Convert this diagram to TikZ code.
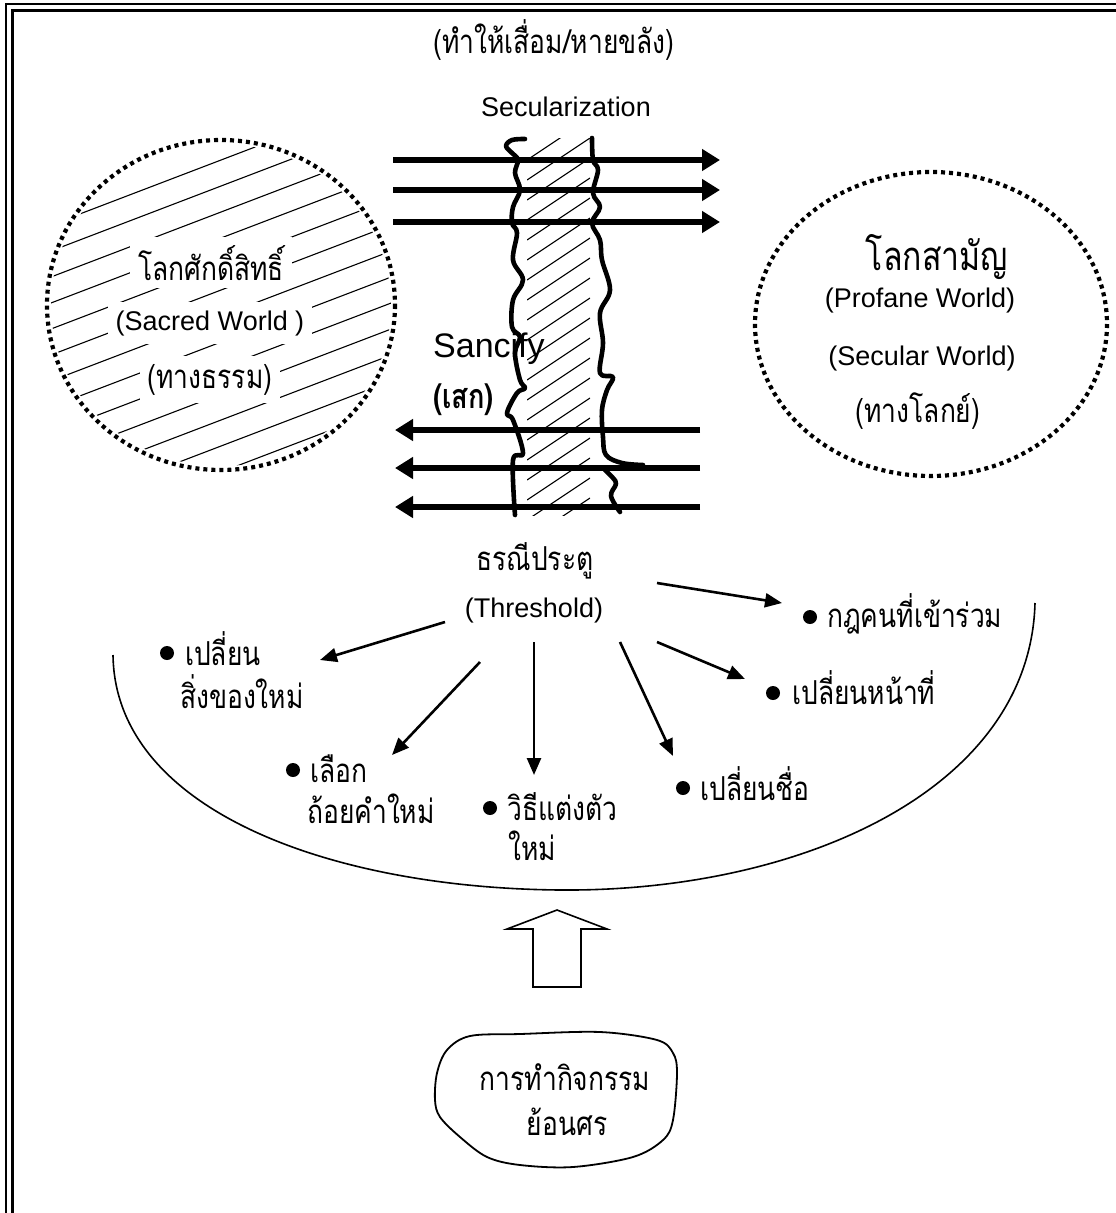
\documentclass[tikz,border=0pt]{standalone}
\usepackage{fontspec}
\setmainfont{Liberation Sans}
\newfontfamily\thaifont[Script=Thai, FakeStretch=0.8]{Loma}
\usetikzlibrary{arrows.meta}

\begin{document}
\begin{tikzpicture}[x=1pt, y=-1pt,
    thai/.style={font=\thaifont\fontsize{33}{38}\selectfont, inner sep=0pt},
    latin/.style={font=\fontsize{27}{32}\selectfont, inner sep=0pt},
    world/.style={line width=4.2pt, dash pattern=on 4pt off 4pt},
    flow/.style={line width=6pt, -{Triangle[length=18pt,width=21pt]}},
    spoke/.style={line width=2.6pt, -{Triangle[length=17pt,width=14pt]}},
    wave/.style={line width=4.6pt, line cap=round, line join=round},
    hatch/.style={line width=1.1pt},
    dot/.style={circle, fill, inner sep=0pt, minimum size=14pt},
    item/.style={thai, anchor=base west, align=left}]
    \useasboundingbox (0,0) rectangle (1116,1213);

    % double frame, cut at the right and bottom
    \draw[line width=2.5pt] (6,4) rectangle (1150,1250);
    \draw[line width=3pt] (12,10) rectangle (1144,1244);

    \node[thai, anchor=base] (secth) at (554,53) {(ทำให้เสื่อม/หายขลัง)};
    \node[latin, anchor=base] (secen) at (566,116) {Secularization};

    % sacred world
    \begin{scope}
        \clip (221,305) ellipse [x radius=170, y radius=161];
        \foreach \c in {244,270,...,560}
            \draw[hatch] (30,\c-11) -- (420,\c-160);
    \end{scope}
    \node[thai, anchor=base, fill=white, inner sep=8pt] (sacth) at (211,280) {โลกศักดิ์สิทธิ์};
    \node[latin, anchor=base, fill=white, inner sep=8pt] (sacen) at (210,330) {(Sacred World )};
    \node[thai, anchor=base, fill=white, inner sep=8pt] (sacdh) at (210,388) {(ทางธรรม)};
    \draw[world] (221,305) ellipse [x radius=174, y radius=165];

    % profane world
    \draw[world] (931,324) ellipse [x radius=176, y radius=152];
    \node[thai, font=\thaifont\fontsize{40}{44}\selectfont, anchor=base] (proth) at (937,270) {โลกสามัญ};
    \node[latin, anchor=base] (proen) at (920,307) {(Profane World)};
    \node[latin, anchor=base] (secw) at (922,365) {(Secular World)};
    \node[thai, anchor=base] (prodh) at (918,422) {(ทางโลกย์)};

    % the strip between the worlds
    \begin{scope}
        \clip (527,138) rectangle (590,515);
        \foreach \c in {160,180,...,580}
            \draw[hatch] (527,\c) -- (590,\c-42);
    \end{scope}
    \node[latin, font=\fontsize{34}{40}\selectfont, anchor=base west] (sanc) at (433,357) {Sancify};
    \node[thai, font=\thaifont\bfseries\fontsize{34}{38}\selectfont, anchor=base west] (sek) at (433,408) {(เสก)};
    \draw[wave] plot[smooth, tension=0.6] coordinates {(525,139) (512,140) (506,146) (512,153) (518,160)
        (515,173) (520,190) (513,207) (512,223) (517,233) (513,260) (523,280) (513,300) (512,327)
        (520,337) (515,353) (520,380) (525,388) (517,393) (507,413) (513,420) (523,453) (513,460) (515,515)};
    \draw[wave] plot[smooth, tension=0.6] coordinates {(592,138) (593,160) (598,170) (593,193) (600,207)
        (592,223) (600,240) (602,260) (610,290) (600,313) (603,343) (600,373) (613,377) (607,390)
        (602,410) (603,437) (606,455) (622,463) (643,465)};
    \draw[wave] plot[smooth, tension=0.6] coordinates {(605,470) (613,478) (616,484) (611,496) (620,512)};

    \foreach \y in {160,190,222}
        \draw[flow] (393,\y) -- (720,\y);
    \foreach \y in {430,468,507}
        \draw[flow] (700,\y) -- (395,\y);

    % threshold and what changes there
    \node[thai, anchor=base] (thrth) at (535,570) {ธรณีประตู};
    \node[latin, anchor=base] (thr) at (534,617) {(Threshold)};

    \node[dot] (b1) at (167,653) {};
    \node[item] (obj) at (185,665) {เปลี่ยน};
    \node[item] (obj2) at (180,708) {สิ่งของใหม่};
    \node[dot] (b2) at (293,770) {};
    \node[item] (word) at (310,782) {เลือก};
    \node[item] (word2) at (307,823) {ถ้อยคำใหม่};
    \node[dot] (b3) at (490,808) {};
    \node[item] (dress) at (507,820) {วิธีแต่งตัว};
    \node[item] (dress2) at (508,860) {ใหม่};
    \node[dot] (b4) at (683,788) {};
    \node[item] (name) at (700,800) {เปลี่ยนชื่อ};
    \node[dot] (b5) at (773,693) {};
    \node[item] (duty) at (792,704) {เปลี่ยนหน้าที่};
    \node[dot] (b6) at (810,617) {};
    \node[item] (rule) at (827,627) {กฎคนที่เข้าร่วม};

    \coordinate (s1) at (445,622); \coordinate (e1) at (320,660);
    \coordinate (s2) at (480,662); \coordinate (e2) at (392,755);
    \coordinate (s3) at (534,642); \coordinate (e3) at (534,775);
    \coordinate (s4) at (620,642); \coordinate (e4) at (673,756);
    \coordinate (s5) at (657,642); \coordinate (e5) at (745,679);
    \coordinate (s6) at (657,583); \coordinate (e6) at (782,603);
    \foreach \i in {1,...,6}
        \draw[spoke] (s\i) -- (e\i);

    % the bowl
    \draw[line width=1.6pt] (113,655) .. controls (115,810) and (330,888) .. (560,890)
        .. controls (800,892) and (1030,790) .. (1035,603);

    % block arrow
    \draw[line width=1.6pt, line join=miter] (557,910) -- (607,929) -- (581,929) -- (581,987)
        -- (533,987) -- (533,929) -- (507,929) -- cycle;

    % cloud
    \draw[line width=1.8pt] plot[smooth cycle, tension=0.55] coordinates {(447,1050) (437,1073) (435,1100)
        (440,1117) (460,1137) (487,1157) (520,1165) (573,1167) (633,1157) (663,1140) (673,1120)
        (677,1073) (673,1053) (657,1040) (600,1032) (520,1034) (470,1036)};
    \node[thai, anchor=base] (back) at (565,1090) {การทำกิจกรรม};
    \node[thai, anchor=base] (back2) at (567,1135) {ย้อนศร};
\end{tikzpicture}
\end{document}
